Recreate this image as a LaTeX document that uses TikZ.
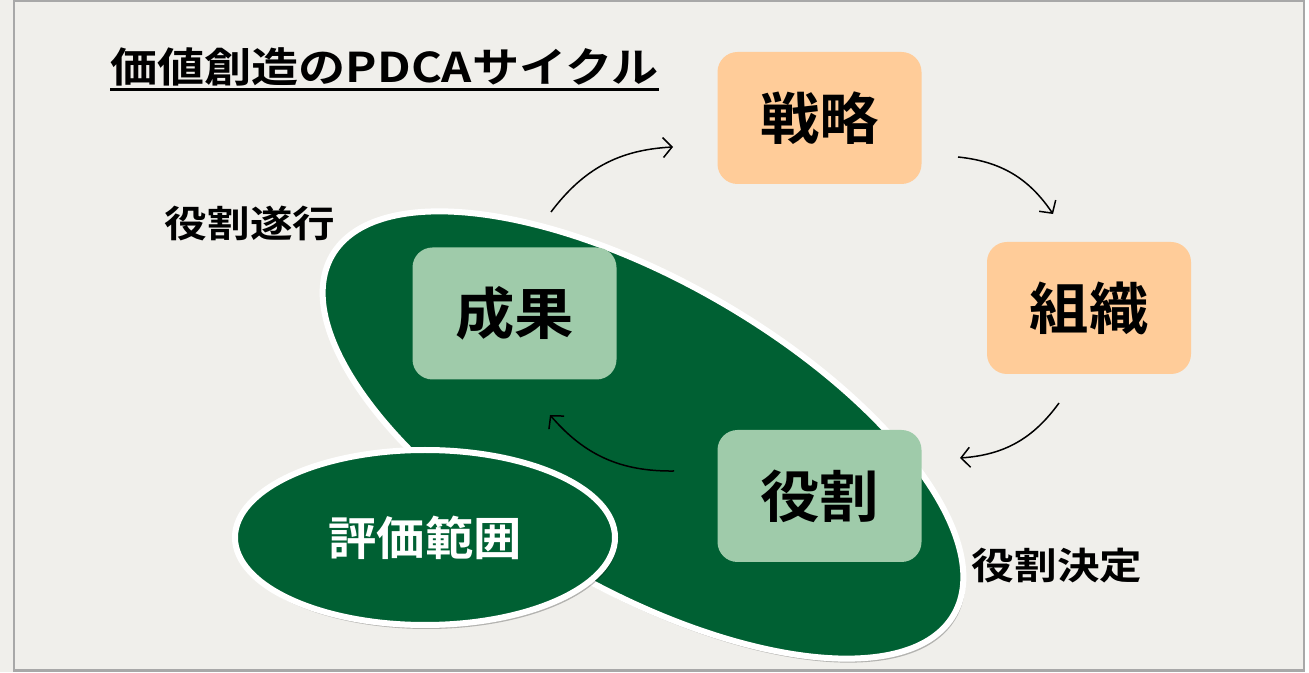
\documentclass[tikz,border=0pt]{standalone}
\usepackage{fontspec}
\newfontfamily\jpb{Noto Sans CJK JP Bold}
\usetikzlibrary{arrows.meta,shapes.geometric,shadows}
\definecolor{bg}{HTML}{F0EFEB}
\definecolor{framegray}{HTML}{A8A8A8}
\definecolor{peach}{HTML}{FFCC99}
\definecolor{lgreen}{HTML}{9FCBAA}
\definecolor{dgreen}{HTML}{006033}
\newcommand\wtxt[2]{\scalebox{#1}[1]{#2}}
\begin{document}
\begin{tikzpicture}[x=1pt,y=1pt,
  box/.style={rounded corners=20pt, minimum width=204pt, minimum height=132pt, inner sep=0pt, font=\jpb\fontsize{56}{60}\selectfont, text=black},
  peachbox/.style={box, fill=peach},
  greenbox/.style={box, fill=lgreen},
  lbl/.style={font=\jpb\fontsize{37}{40}\selectfont, inner sep=0pt},
  arr/.style={-{Straight Barb[length=9pt,width=20pt]}, line width=1.5pt, bend left=25},
  blob/.style={ellipse, fill=dgreen, draw=white, line width=6pt, inner sep=0pt,
    drop shadow={shadow xshift=2pt, shadow yshift=-4pt, opacity=0.25, fill=black}}]
\useasboundingbox (0,0) rectangle (1309,672);
\fill[white] (0,0) rectangle (1309,672);
\fill[bg] (0,0) rectangle (1305,672);
\draw[framegray, line width=2.5pt] (14,1.5) rectangle (1304,671.5);

% title
\node[font=\jpb\fontsize{41}{45}\selectfont, anchor=west, inner sep=0pt] (title) at (110,605.5) {\wtxt{1.15}{価値創造のPDCAサイクル}};
\coordinate (ul) at (0,582);
\draw[line width=3pt] (title.west |- ul) -- (title.east |- ul);

% ellipses
\node[blob, minimum width=718pt, minimum height=308pt, rotate=-30] (big) at (643,237) {};
\node[blob, minimum width=380pt, minimum height=175pt, text=white, font=\jpb\fontsize{46}{50}\selectfont] (range) at (425,134.5) {\raisebox{1.5pt}{\wtxt{1.05}{評価範囲}}};

% boxes
\node[peachbox] (senryaku) at (819.5,554) {\raisebox{2pt}{\wtxt{1.06}{戦略}}};
\node[peachbox] (soshiki) at (1089,364) {\raisebox{3pt}{\wtxt{1.06}{組織}}};
\node[greenbox] (yakuwari) at (819.5,176) {\raisebox{3pt}{\wtxt{1.06}{役割}}};
\node[greenbox] (seika) at (514.5,358.5) {\raisebox{7pt}{\wtxt{1.06}{成果}}};

% labels
\node[lbl] (suikou) at (250,448.5) {\wtxt{1.15}{役割遂行}};
\node[lbl] (kettei) at (1057,106) {\wtxt{1.15}{役割決定}};

% arrows
\coordinate (a1s) at (551,460);
\coordinate (a1e) at (673,525);
\coordinate (a2s) at (958,515);
\coordinate (a2e) at (1053,458);
\coordinate (a3s) at (1059,269);
\coordinate (a3e) at (960,214);
\coordinate (a4s) at (674,201);
\coordinate (a4e) at (550,257);
\draw[arr] (a1s) to (a1e);
\draw[arr] (a2s) to (a2e);
\draw[arr] (a3s) to (a3e);
\draw[arr] (a4s) to (a4e);
\end{tikzpicture}
\end{document}
